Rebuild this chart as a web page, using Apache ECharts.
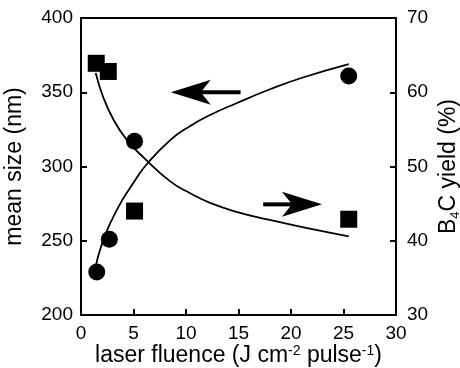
<!DOCTYPE html>
<html>
<head>
<meta charset="utf-8">
<script src="https://cdn.jsdelivr.net/npm/echarts@6/dist/echarts.min.js"></script>
<style>html,body{margin:0;padding:0;background:#fff}#c{width:460px;height:368px}</style>
</head>
<body>
<div id="c"></div>
<script>
// Measured points
const sizeX = [1.5, 2.7, 5.1, 25.5];
const sizeY = [229, 251, 317, 361];          // mean size (nm), left axis
const yieldX = [1.45, 2.6, 5.1, 25.5];
const yieldY = [63.9, 62.8, 44.0, 42.9];     // B4C yield (%), right axis
// Fitted curves
const sizeFitX = [1.4, 2.0, 2.8, 3.9, 5.0, 6.2, 8.5, 10.4, 12.3, 14.8, 18, 21.2, 25.5];
const sizeFitY = [233, 248, 262, 277, 289, 301, 317.8, 327.3, 334.7, 342.6, 352, 360.1, 369];
const yieldFitX = [1.4, 2.1, 3.1, 4.35, 5.9, 8.5, 10.4, 12.3, 14.8, 18, 21.2, 25.5];
const yieldFitY = [62.6, 59.4, 56.3, 53.6, 51.3, 48.0, 46.4, 45.1, 43.9, 42.8, 41.8, 40.6];
// Annotation arrows (tail x, tail y, tip x, tip y) in data units
const arrowLeft = [15.2, 350, 8.55, 350];    // points to left axis
const arrowRight = [17.35, 44.9, 22.95, 44.9]; // points to right axis
// Axis tick settings
const xTicks = {min: 0, max: 30, interval: 5};
const leftTicks = {min: 200, max: 400, interval: 50};
const rightTicks = {min: 30, max: 70, interval: 10};

const zip = (a, b) => a.map((v, i) => [v, b[i]]);
const FONT = 'Liberation Sans';
const axisCommon = {
  axisLine: {show: true, lineStyle: {color: '#000', width: 2}},
  axisTick: {show: true, inside: true, length: 6, lineStyle: {color: '#000', width: 2}},
  splitLine: {show: false},
  nameMoveOverlap: false
};
function renderArrow(params, api) {
  const tail = api.coord([api.value(0), api.value(1)]);
  const tip = api.coord([api.value(2), api.value(3)]);
  const dx = tip[0] - tail[0], dy = tip[1] - tail[1];
  const len = Math.sqrt(dx * dx + dy * dy);
  const ux = dx / len, uy = dy / len, nx = -uy, ny = ux;
  const headLen = 40, notch = 30, half = 12.5;
  const base = [tip[0] - ux * headLen, tip[1] - uy * headLen];
  const nt = [tip[0] - ux * notch, tip[1] - uy * notch];
  return {
    type: 'group',
    children: [
      {type: 'line', shape: {x1: tail[0], y1: tail[1], x2: nt[0], y2: nt[1]},
       style: {stroke: '#000', lineWidth: 4}},
      {type: 'polygon', shape: {points: [
        tip, [base[0] + nx * half, base[1] + ny * half], nt, [base[0] - nx * half, base[1] - ny * half]
      ]}, style: {fill: '#000'}}
    ]
  };
}
const chart = echarts.init(document.getElementById('c'), null, {renderer: 'canvas'});
chart.setOption({
  animation: false,
  backgroundColor: '#fff',
  grid: {left: 81, right: 64, top: 18, bottom: 53, show: true, borderColor: '#000', borderWidth: 2,
         containLabel: false, outerBoundsMode: 'none'},
  xAxis: Object.assign({
    type: 'value', min: xTicks.min, max: xTicks.max, interval: xTicks.interval,
    name: 'laser fluence (J cm{sup|-2} pulse{sup|-1})',
    nameLocation: 'middle', nameGap: 29,
    nameTextStyle: {color: '#000', fontSize: 23, fontFamily: FONT, lineHeight: 24,
      rich: {sup: {fontSize: 14, fontFamily: FONT, color: '#000', verticalAlign: 'top', lineHeight: 14}}},
    axisLabel: {color: '#000', fontSize: 19, fontFamily: FONT, margin: 9}
  }, axisCommon),
  yAxis: [
    Object.assign({
      type: 'value', position: 'left', min: leftTicks.min, max: leftTicks.max, interval: leftTicks.interval,
      name: 'mean size (nm)', nameLocation: 'middle', nameGap: 55,
      nameTextStyle: {color: '#000', fontSize: 23, fontFamily: FONT},
      axisLabel: {color: '#000', fontSize: 19, fontFamily: FONT, margin: 8}
    }, axisCommon),
    Object.assign({
      type: 'value', position: 'right', min: rightTicks.min, max: rightTicks.max, interval: rightTicks.interval,
      name: 'B{sub|4}C yield (%)', nameLocation: 'middle', nameGap: 40,
      nameTextStyle: {color: '#000', fontSize: 23, fontFamily: FONT, lineHeight: 26,
        rich: {sub: {fontSize: 13, fontFamily: FONT, color: '#000', verticalAlign: 'bottom', lineHeight: 13}}},
      axisLabel: {color: '#000', fontSize: 19, fontFamily: FONT, margin: 11}
    }, axisCommon)
  ],
  series: [
    {
      type: 'line', yAxisIndex: 0, data: zip(sizeFitX, sizeFitY), smooth: 0.5,
      showSymbol: false, lineStyle: {color: '#000', width: 1.8}, silent: true
    },
    {
      type: 'line', yAxisIndex: 1, data: zip(yieldFitX, yieldFitY), smooth: 0.5,
      showSymbol: false, lineStyle: {color: '#000', width: 1.8}, silent: true
    },
    {
      type: 'scatter', yAxisIndex: 0, data: zip(sizeX, sizeY), symbol: 'circle', symbolSize: 17,
      itemStyle: {color: '#000', opacity: 1}, silent: true
    },
    {
      type: 'scatter', yAxisIndex: 1, data: zip(yieldX, yieldY), symbol: 'rect', symbolSize: 17,
      itemStyle: {color: '#000', opacity: 1}, silent: true
    },
    {
      type: 'custom', yAxisIndex: 0, data: [arrowLeft], renderItem: renderArrow, silent: true
    },
    {
      type: 'custom', yAxisIndex: 1, data: [arrowRight], renderItem: renderArrow, silent: true
    }
  ]
});
</script>
</body>
</html>
